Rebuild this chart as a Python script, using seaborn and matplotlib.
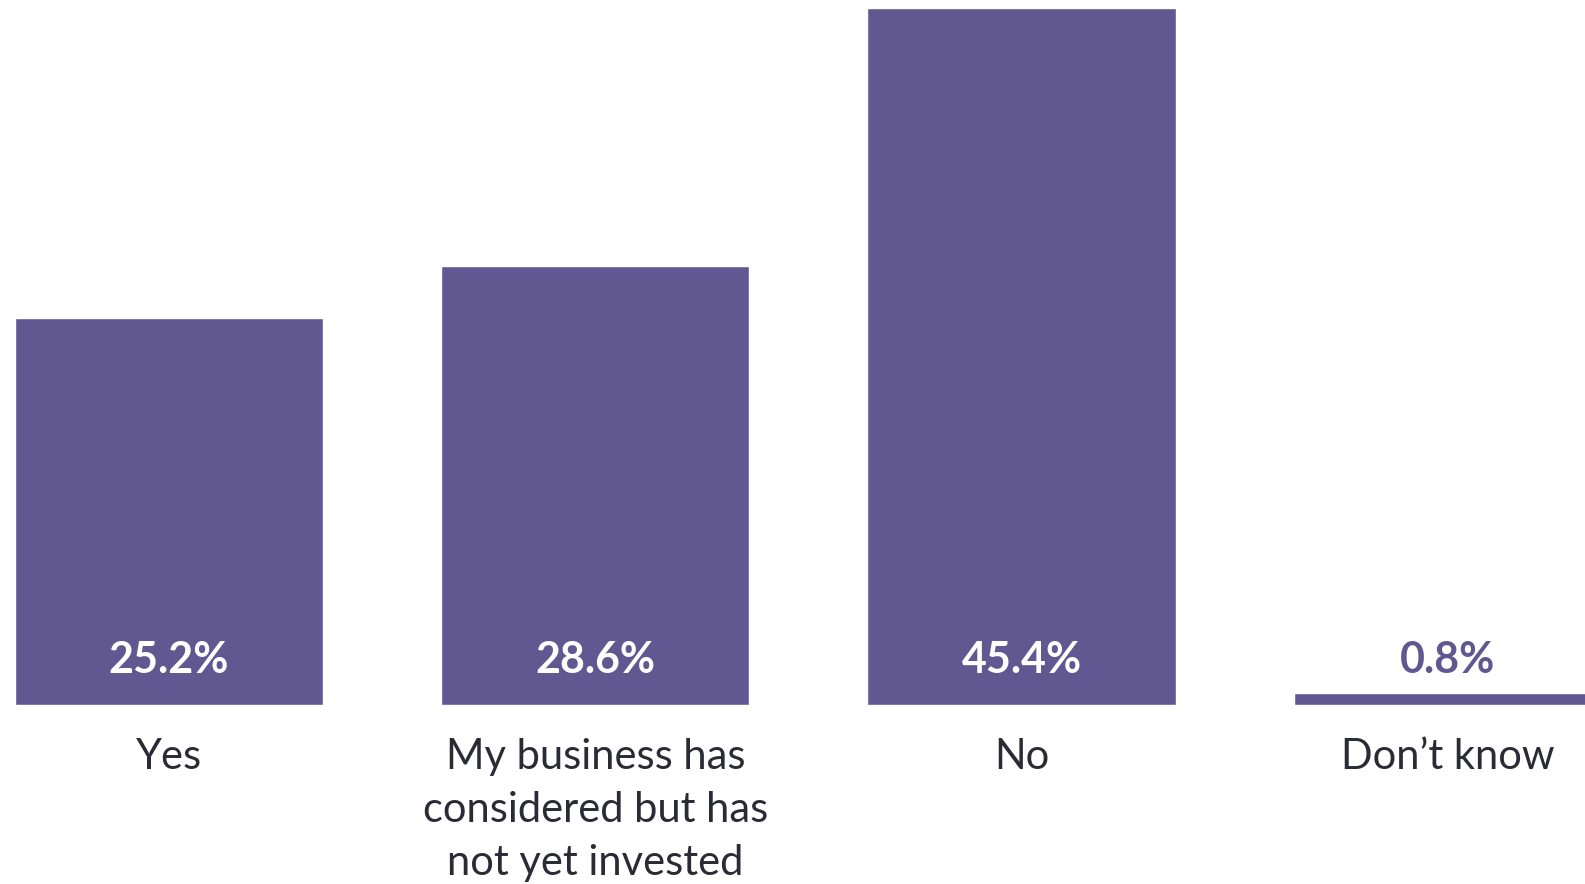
import matplotlib
matplotlib.use("Agg")
import matplotlib.pyplot as plt
import seaborn as sns
import pandas as pd

categories = ["Yes", "My business has\nconsidered but has\nnot yet invested", "No", "Don\u2019t know"]
values = [25.2, 28.6, 45.4, 0.8]
value_labels = ["25.2%", "28.6%", "45.4%", "0.8%"]

BAR = "#625891"
TEXT = "#2b2b35"

sns.set_theme(style="white")
plt.rcParams['font.family'] = ['Lato', 'DejaVu Sans']

df = pd.DataFrame({"category": categories, "value": values})

fig = plt.figure(figsize=(15.85, 8.84), dpi=100)
ax = fig.add_axes([0, 1 - 705 / 884, 1, 705 / 884])
sns.barplot(data=df, x="category", y="value", color=BAR, saturation=1,
            width=0.723, ax=ax)

ax.set_xlim(-0.3964, 3.3216)
ax.set_ylim(0, 45.4 * 705 / 697)
ax.set_xlabel("")
ax.set_ylabel("")
ax.set_yticks([])
for s in ax.spines.values():
    s.set_visible(False)
ax.tick_params(axis="x", length=0, pad=24, labelsize=30, labelcolor=TEXT)
for t in ax.get_xticklabels():
    t.set_linespacing(1.48)

# value labels near bottom of bars
label_y = 45.4 * 705 / 697 * (705 - 673) / 705
for i, (v, lab) in enumerate(zip(values, value_labels)):
    inside = v > 5
    ax.text(i, label_y, lab, ha="center", va="baseline", fontsize=31,
            fontweight="bold", color="white" if inside else BAR)

fig.savefig("out.png", dpi=100)
